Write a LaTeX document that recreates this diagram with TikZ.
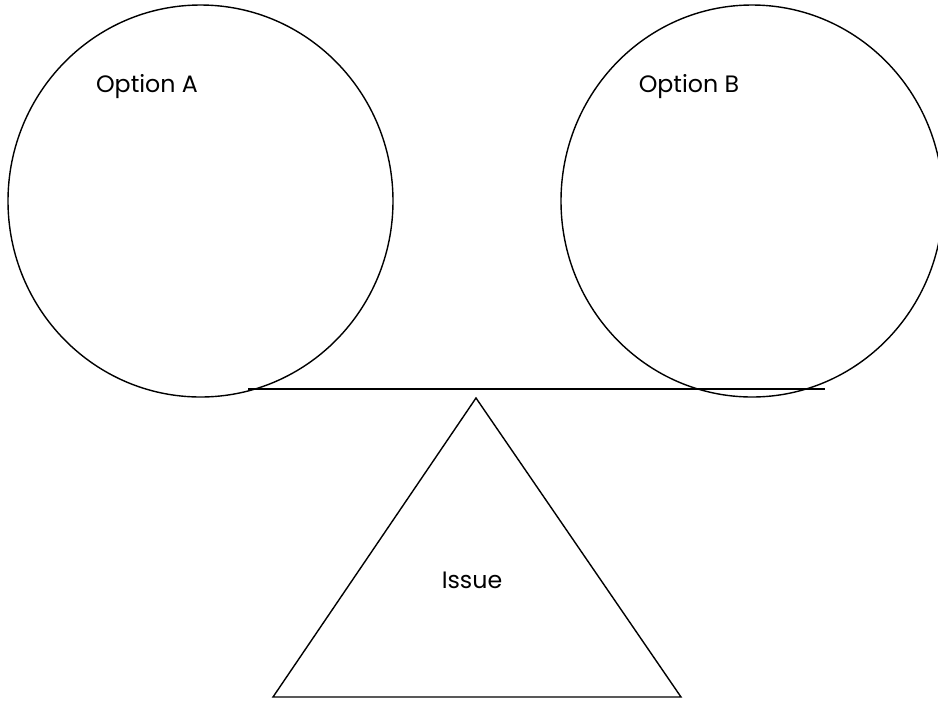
\documentclass[tikz,border=0pt]{standalone}
\usepackage{fontspec}
\usetikzlibrary{shapes.geometric}
\setmainfont{Poppins}
\begin{document}
\begin{tikzpicture}[x=0.02cm,y=-0.02cm,
  pan/.style={draw,ellipse,line width=0.8pt,inner sep=0pt},
  beam/.style={line width=1.1pt},
  label text/.style={font=\fontsize{13.5}{16}\selectfont}
  ]
  \useasboundingbox (0,0) rectangle (938,728);
  \node[pan,minimum width=385*0.02cm,minimum height=392*0.02cm] (optA) at (200.5,201) {};
  \node[pan,minimum width=382*0.02cm,minimum height=392*0.02cm] (optB) at (752,201) {};
  \node[label text] (textA) at (147,87) {Option A};
  \node[label text] (textB) at (689,87) {Option B};
  \coordinate (beamL) at (248,389);
  \coordinate (beamR) at (825,389);
  \draw[beam] (beamL) -- (beamR);
  \coordinate (apex) at (476,398);
  \coordinate (baseL) at (273,697);
  \coordinate (baseR) at (681,697);
  \draw[line width=0.8pt] (apex) -- (baseL) -- (baseR) -- cycle;
  \node[label text] (issue) at (472,580) {Issue};
\end{tikzpicture}
\end{document}
